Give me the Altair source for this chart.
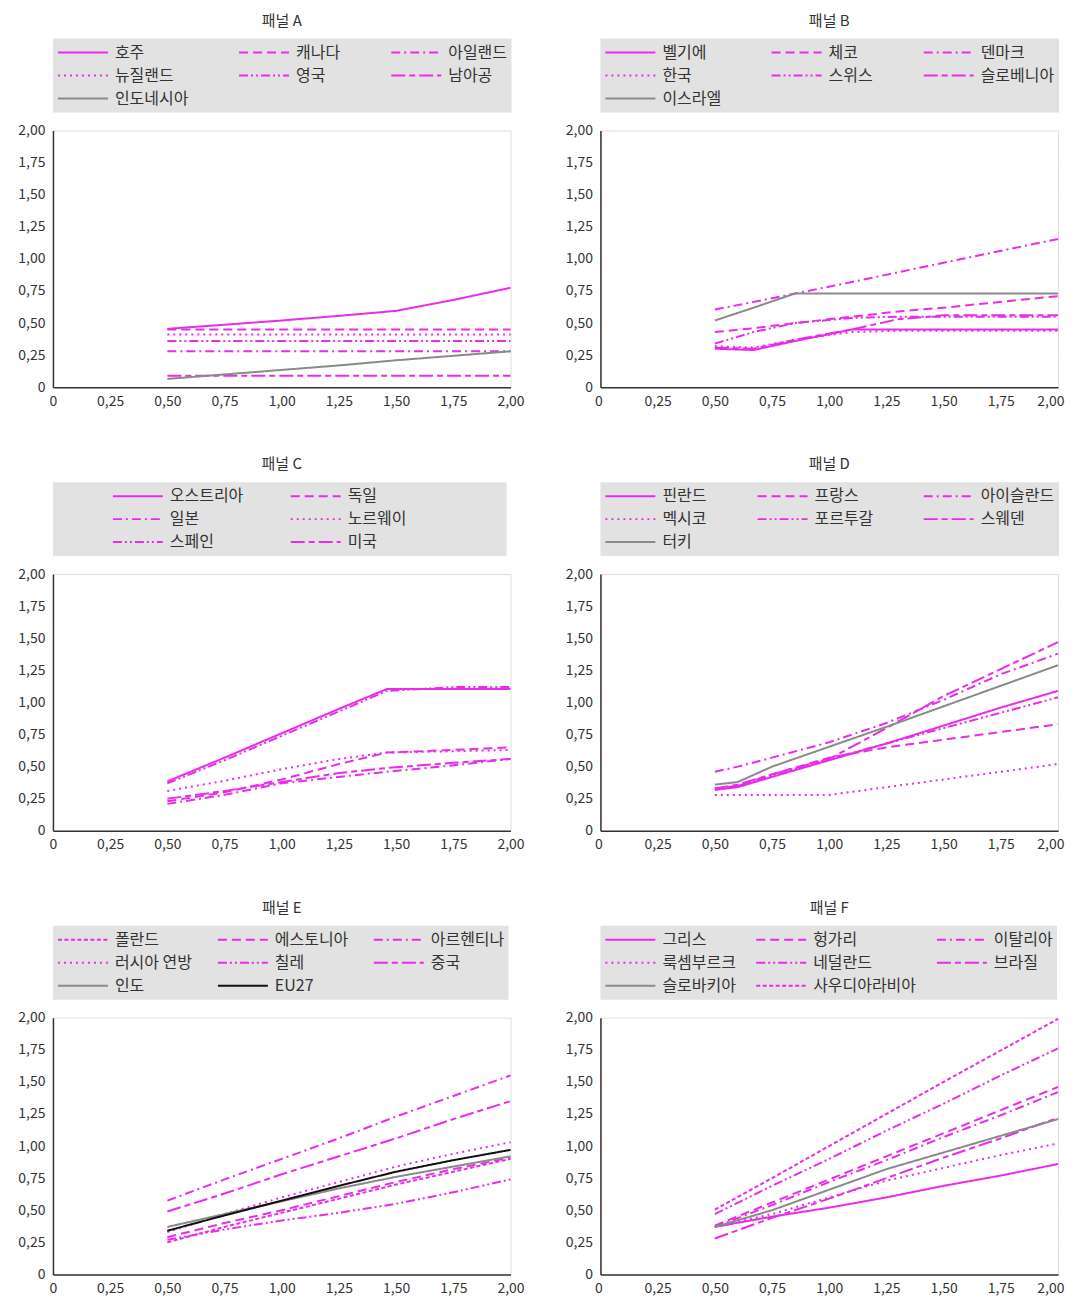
import math
import altair as alt
import pandas as pd

FONT = "Noto Sans CJK KR"
MAGENTA = "#ea2bea"
GRAY = "#8a8a8a"
BLACK = "#111111"

DASHES = {
    "solid": [1, 0],
    "dash": [9, 5],
    "dashdot": [9, 4, 2, 4],
    "dot": [2, 4],
    "dashdotdot": [9, 3, 2, 3, 2, 3],
    "longshort": [14, 4, 6, 4],
    "short": [4, 2.5],
}

# ---------------- Panel A ----------------
A_names = ["호주", "캐나다", "아일랜드", "뉴질랜드", "영국", "남아공", "인도네시아"]
A_styles = ["solid", "dash", "dashdot", "dot", "dashdotdot", "longshort", "solid"]
A_colors = [MAGENTA] * 6 + [GRAY]
A_x = [0.5, 0.75, 1.0, 1.25, 1.5, 1.75, 2.0]
A_y = [
    [0.455, 0.487, 0.52, 0.556, 0.595, 0.68, 0.775],
    [0.45, 0.45, 0.45, 0.45, 0.45, 0.45, 0.45],
    [0.28, 0.28, 0.28, 0.28, 0.28, 0.28, 0.28],
    [0.41, 0.41, 0.41, 0.41, 0.41, 0.41, 0.41],
    [0.36, 0.36, 0.36, 0.36, 0.36, 0.36, 0.36],
    [0.09, 0.09, 0.09, 0.09, 0.09, 0.09, 0.09],
    [0.065, 0.10, 0.135, 0.17, 0.21, 0.245, 0.28],
]

# ---------------- Panel B ----------------
B_names = ["벨기에", "체코", "덴마크", "한국", "스위스", "슬로베니아", "이스라엘"]
B_styles = ["solid", "dash", "dashdot", "dot", "dashdotdot", "longshort", "solid"]
B_colors = [MAGENTA] * 6 + [GRAY]
B_x = [0.5, 0.67, 0.85, 1.1, 1.3, 1.5, 2.0]
B_y = [
    [0.30, 0.29, 0.36, 0.45, 0.45, 0.45, 0.45],
    [0.43, 0.46, 0.50, 0.55, 0.59, 0.62, 0.71],
    [0.605, 0.665, 0.73, 0.82, 0.895, 0.97, 1.155],
    [0.32, 0.31, 0.37, 0.43, 0.44, 0.44, 0.44],
    [0.34, 0.43, 0.50, 0.54, 0.55, 0.55, 0.55],
    [0.31, 0.30, 0.37, 0.45, 0.53, 0.56, 0.56],
    [0.52, 0.62, 0.73, 0.73, 0.73, 0.73, 0.73],
]

# ---------------- Panel C ----------------
C_names = ["오스트리아", "독일", "일본", "노르웨이", "스페인", "미국"]
C_styles = ["solid", "dash", "dashdot", "dot", "dashdotdot", "longshort"]
C_colors = [MAGENTA] * 6
C_x = [0.5, 0.75, 1.0, 1.25, 1.46, 1.75, 2.0]
C_y = [
    [0.385, 0.57, 0.76, 0.95, 1.105, 1.105, 1.105],
    [0.23, 0.30, 0.40, 0.52, 0.61, 0.63, 0.65],
    [0.21, 0.28, 0.37, 0.42, 0.46, 0.51, 0.56],
    [0.31, 0.39, 0.48, 0.56, 0.61, 0.62, 0.63],
    [0.37, 0.55, 0.74, 0.93, 1.09, 1.12, 1.12],
    [0.25, 0.31, 0.38, 0.45, 0.49, 0.53, 0.56],
]

# ---------------- Panel D ----------------
D_names = ["핀란드", "프랑스", "아이슬란드", "멕시코", "포르투갈", "스웨덴", "터키"]
D_styles = ["solid", "dash", "dashdot", "dot", "dashdotdot", "longshort", "solid"]
D_colors = [MAGENTA] * 6 + [GRAY]
D_x = [0.5, 0.6, 0.75, 1.0, 1.25, 1.5, 1.75, 2.0]
D_y = [
    [0.32, 0.34, 0.42, 0.55, 0.68, 0.82, 0.96, 1.09],
    [0.33, 0.35, 0.44, 0.57, 0.65, 0.71, 0.77, 0.83],
    [0.46, 0.50, 0.57, 0.69, 0.84, 1.02, 1.22, 1.38],
    [0.28, 0.28, 0.28, 0.28, 0.34, 0.40, 0.46, 0.52],
    [0.32, 0.35, 0.43, 0.56, 0.68, 0.80, 0.92, 1.04],
    [0.33, 0.36, 0.44, 0.56, 0.80, 1.05, 1.26, 1.47],
    [0.36, 0.38, 0.50, 0.655, 0.81, 0.97, 1.13, 1.29],
]

# ---------------- Panel E ----------------
E_names = ["폴란드", "에스토니아", "아르헨티나", "러시아 연방", "칠레", "중국", "인도", "EU27"]
E_styles = ["short", "dash", "dashdot", "dot", "dashdotdot", "longshort", "solid", "solid"]
E_colors = [MAGENTA] * 6 + [GRAY, BLACK]
E_x = [0.5, 0.75, 1.0, 1.25, 1.5, 1.75, 2.0]
E_y = [
    [0.25, 0.37, 0.48, 0.59, 0.70, 0.80, 0.90],
    [0.29, 0.40, 0.50, 0.61, 0.72, 0.82, 0.91],
    [0.575, 0.74, 0.90, 1.06, 1.23, 1.39, 1.55],
    [0.33, 0.47, 0.60, 0.72, 0.84, 0.94, 1.03],
    [0.27, 0.35, 0.42, 0.48, 0.55, 0.64, 0.74],
    [0.49, 0.63, 0.78, 0.92, 1.06, 1.21, 1.35],
    [0.37, 0.47, 0.57, 0.67, 0.76, 0.84, 0.92],
    [0.34, 0.46, 0.575, 0.69, 0.80, 0.89, 0.97],
]

# ---------------- Panel F ----------------
F_names = ["그리스", "헝가리", "이탈리아", "룩셈부르크", "네덜란드", "브라질", "슬로바키아", "사우디아라비아"]
F_styles = ["solid", "dash", "dashdot", "dot", "dashdotdot", "longshort", "solid", "short"]
F_colors = [MAGENTA] * 6 + [GRAY, MAGENTA]
F_x = [0.5, 0.75, 1.0, 1.25, 1.5, 1.75, 2.0]
F_y = [
    [0.37, 0.45, 0.52, 0.60, 0.69, 0.77, 0.86],
    [0.38, 0.56, 0.74, 0.92, 1.10, 1.28, 1.46],
    [0.37, 0.54, 0.72, 0.89, 1.07, 1.24, 1.42],
    [0.37, 0.47, 0.60, 0.73, 0.83, 0.93, 1.02],
    [0.47, 0.69, 0.90, 1.12, 1.33, 1.55, 1.76],
    [0.28, 0.44, 0.59, 0.75, 0.91, 1.06, 1.22],
    [0.37, 0.50, 0.66, 0.82, 0.95, 1.08, 1.21],
    [0.505, 0.75, 1.00, 1.25, 1.50, 1.745, 1.99],
]

TICKS = [0, 0.25, 0.5, 0.75, 1.0, 1.25, 1.5, 1.75, 2.0]
LABEL_EXPR = "datum.value == 0 ? '0' : replace(format(datum.value, '.2f'), '.', ',')"

W, H = 458, 257
LFS = 16          # legend label font size
SYM = 50          # legend symbol width
LOFF = 6          # label offset
LPAD = 4          # legend padding
BLANK = "\u2800"  # blank glyph used only to pad legend spacing


def text_w(s, fs):
    w = 0
    for ch in s:
        if ord(ch) > 0x1100:
            w += 0.95 * fs
        elif ch == " ":
            w += 0.3 * fs
        else:
            w += 0.6 * fs
    return w


def legend_order(items, columns):
    """Reorder so that the legend grid reads row by row in the given order."""
    n = len(items)
    rows = math.ceil(n / columns)
    seq = [c * rows + r for r in range(rows) for c in range(columns) if c * rows + r < n]
    out = [None] * n
    for k, p in enumerate(seq):
        out[p] = items[k]
    return out


def panel(title, names, styles, colors, xs, ys, columns=3, right=False,
          spacer=0, col_pad=None, tail=0, tail_labels=None):
    rows = []
    for i, n in enumerate(names):
        for x, y in zip(xs, ys[i]):
            rows.append({"series": n, "x": x, "y": y})
    df = pd.DataFrame(rows)

    if col_pad is None:
        widths = []
        for c in range(columns):
            widths.append(max(SYM + LOFF + text_w(n, LFS) for n in names[c::columns]))
        col_pad = max(6, (W - 1 - 2 * LPAD - sum(widths)) / (columns - 1))

    dom = legend_order(names, columns)
    col_rng = legend_order(colors, columns)
    dash_rng = legend_order([DASHES[s] for s in styles], columns)

    legend_kwargs = dict(
        orient="none",
        legendX=0,
        legendY=-92,
        columns=columns,
        gridAlign="each",
        fillColor="#e2e2e2",
        padding=LPAD,
        columnPadding=col_pad,
        rowPadding=3,
        clipHeight=20,
        symbolType="stroke",
        symbolSize=SYM * SYM,
        symbolStrokeWidth=2,
        labelFont=FONT,
        labelFontSize=LFS,
        labelColor="#333333",
        labelOffset=LOFF,
        labelLimit=400,
    )
    if spacer:
        legend_kwargs.update(
            title=BLANK * spacer,
            titleOrient="left",
            titleFontSize=LFS,
            titleFont=FONT,
            titlePadding=7,
        )
    else:
        legend_kwargs["title"] = None
    if tail and tail_labels:
        lst = "[" + ",".join("'" + t + "'" for t in tail_labels) + "]"
        legend_kwargs["labelExpr"] = (
            "indexof(" + lst + ", datum.label) >= 0 ? datum.label + '"
            + BLANK * tail + "' : datum.label"
        )
    legend = alt.Legend(**legend_kwargs)

    grid_op = {"condition": {"test": "datum.value == 0 || datum.value == 2", "value": 0},
               "value": 0.75}
    axis_common = dict(
        values=TICKS,
        labelExpr=LABEL_EXPR,
        title=None,
        labelFont=FONT,
        labelFontSize=14,
        labelColor="#333333",
        ticks=False,
        domainColor="#333333",
        domainWidth=1.5,
        gridColor="#ffffff",
        gridOpacity=grid_op,
        gridWidth=1,
    )
    x_axis = dict(axis_common, labelPadding=7)
    if right:
        x_axis["labelFlush"] = True
        x_axis["labelFlushOffset"] = 6
    else:
        x_axis["labelFlush"] = False
    chart = (
        alt.Chart(df)
        .mark_line(strokeWidth=2)
        .encode(
            x=alt.X(
                "x:Q",
                scale=alt.Scale(domain=[0, 2], nice=False),
                axis=alt.Axis(**x_axis),
            ),
            y=alt.Y(
                "y:Q",
                scale=alt.Scale(domain=[0, 2], nice=False),
                axis=alt.Axis(labelPadding=8, **axis_common),
            ),
            color=alt.Color(
                "series:N",
                scale=alt.Scale(domain=dom, range=col_rng),
                legend=legend,
            ),
            strokeDash=alt.StrokeDash(
                "series:N",
                scale=alt.Scale(domain=dom, range=dash_rng),
                legend=legend,
            ),
        )
        .properties(
            width=W,
            height=H,
            title=alt.TitleParams(
                title,
                font=FONT,
                fontSize=15,
                fontWeight="normal",
                color="#333333",
                anchor="middle",
                offset=10,
            ),
        )
    )
    return chart


pA = panel("패널 A", A_names, A_styles, A_colors, A_x, A_y)
pB = panel("패널 B", B_names, B_styles, B_colors, B_x, B_y, right=True)
pC = panel("패널 C", C_names, C_styles, C_colors, C_x, C_y, columns=2,
           spacer=4, col_pad=46, tail=8, tail_labels=["독일", "노르웨이", "미국"])
pD = panel("패널 D", D_names, D_styles, D_colors, D_x, D_y, right=True)
pE = panel("패널 E", E_names, E_styles, E_colors, E_x, E_y)
pF = panel("패널 F", F_names, F_styles, F_colors, F_x, F_y, right=True)

row1 = alt.hconcat(pA, pB, spacing=39).resolve_scale(color="independent", strokeDash="independent")
row2 = alt.hconcat(pC, pD, spacing=39).resolve_scale(color="independent", strokeDash="independent")
row3 = alt.hconcat(pE, pF, spacing=39).resolve_scale(color="independent", strokeDash="independent")

chart = (
    alt.vconcat(row1, row2, row3, spacing=47)
    .resolve_scale(color="independent", strokeDash="independent")
    .configure_view(fill="#fde8fc", stroke="#333333", strokeWidth=1.5)
    .configure_axis(grid=True)
    .configure(background="white", padding={"left": 9, "top": 4, "right": 2, "bottom": 0})
)

chart.save("out.html", embed_options={"renderer": "svg", "actions": False})
